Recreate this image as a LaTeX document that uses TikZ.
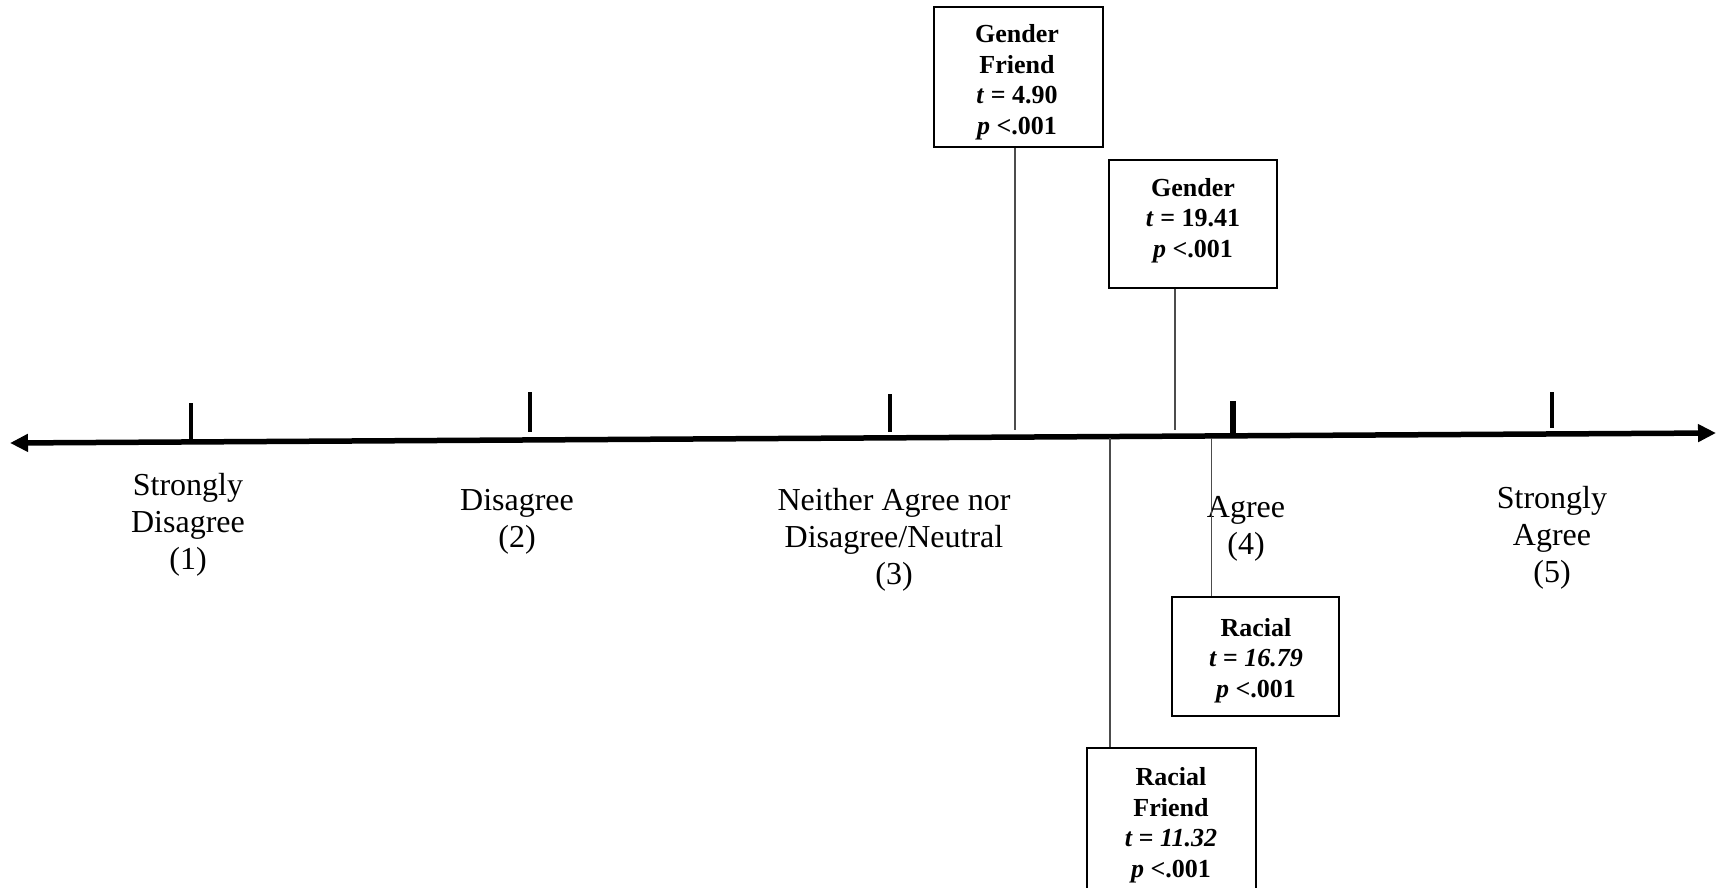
\documentclass[tikz,border=0pt]{standalone}
\usepackage{fontspec}
\setmainfont{Liberation Serif}
\usetikzlibrary{arrows.meta}
\begin{document}
\begin{tikzpicture}[x=1pt,y=-1pt,
  box/.style={draw=black, line width=1.3pt, inner sep=0pt},
  boxtext/.style={font=\fontsize{26}{30.5}\selectfont\bfseries, align=center, inner sep=0pt, yshift=-3.5pt},
  scalelabel/.style={font=\fontsize{32}{37}\selectfont, align=center, inner sep=0pt, yshift=-3.5pt},
  tickmark/.style={line width=3.6pt},
  link/.style={line width=1.3pt, draw=black!70},
  axisline/.style={line width=5.5pt, {Triangle[length=18pt,width=17pt]}-{Triangle[length=18pt,width=17pt]}}]
\useasboundingbox (0,0) rectangle (1718,888);
\clip (0,0) rectangle (1718,888);

% axis
\coordinate (axl) at (10,443);
\coordinate (axr) at (1716,433);
\draw[axisline] (axl) -- (axr);

% ticks
\draw[tickmark] (191,403) -- (191,440);
\draw[tickmark] (530,392) -- (530,432);
\draw[tickmark] (890,394) -- (890,432);
\draw[line width=5.5pt] (1233,401) -- (1233,434);
\draw[tickmark] (1552,392) -- (1552,428);

% scale labels
\node[scalelabel] (l1) at (188,521) {Strongly\\Disagree\\(1)};
\node[scalelabel] (l2) at (517,518) {Disagree\\(2)};
\node[scalelabel] (l3) at (894,536) {Neither Agree nor\\Disagree/Neutral\\(3)};
\node[scalelabel] (l4) at (1246,525) {Agree\\(4)};
\node[scalelabel] (l5) at (1552,534) {Strongly\\Agree\\(5)};

% boxes
\node[box, minimum width=169pt, minimum height=140pt] (gfbox) at (1018.5,77) {};
\node[boxtext] (gftext) at (1017,78.5) {Gender\\Friend\\\textit{t} = 4.90\\\textit{p} <.001};

\node[box, minimum width=168pt, minimum height=128pt] (gbox) at (1193,224) {};
\node[boxtext] (gtext) at (1193,217) {Gender\\\textit{t} = 19.41\\\textit{p} <.001};

\node[box, minimum width=167pt, minimum height=119pt] (rbox) at (1255.5,656.5) {};
\node[boxtext] (rtext) at (1256,657) {Racial\\\textit{t = 16.79}\\\textit{p} <.001};

\node[box, minimum width=169pt, minimum height=152pt] (rfbox) at (1171.5,824) {};
\node[boxtext] (rftext) at (1171,821.5) {Racial\\Friend\\\textit{t = 11.32}\\\textit{p} <.001};

% connectors
\coordinate (gfa) at (1015,430);
\coordinate (ga) at (1175,430);
\coordinate (rfa) at (1110,438);
\coordinate (ra) at (1211.5,438);
\draw[link] (gfa |- gfbox.south) -- (gfa);
\draw[link] (ga |- gbox.south) -- (ga);
\draw[link] (rfa) -- (rfa |- rfbox.north);
\draw[link] (ra) -- (ra |- rbox.north);
\end{tikzpicture}
\end{document}
